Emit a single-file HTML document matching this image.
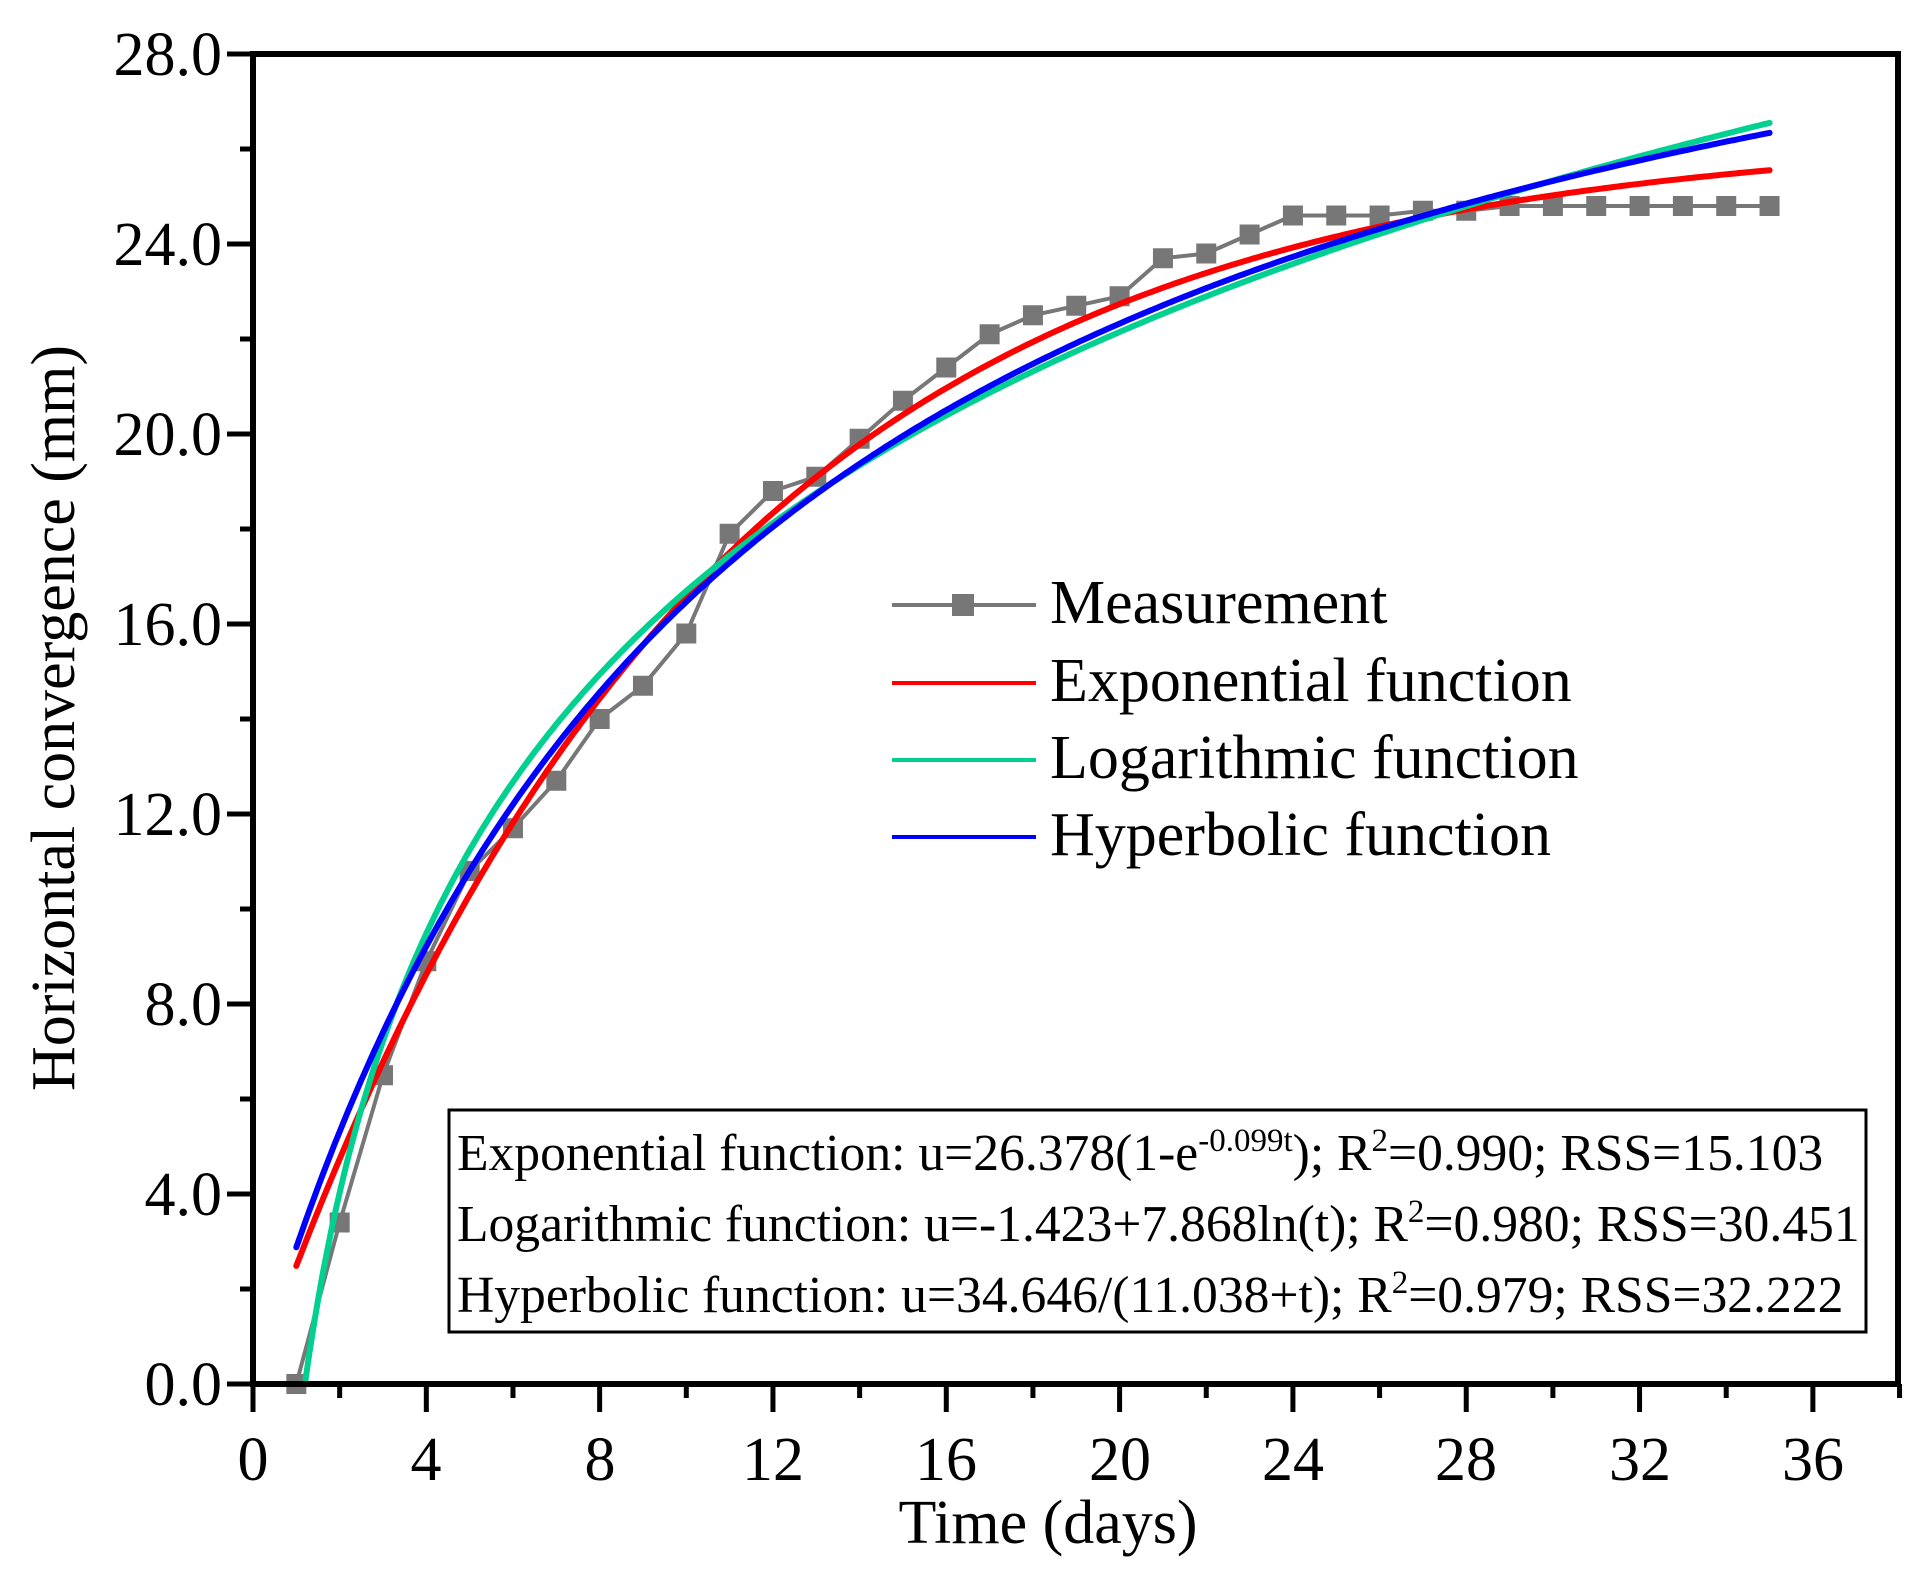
<!DOCTYPE html>
<html><head><meta charset="utf-8"><style>
html,body{margin:0;padding:0;background:#fff}
svg{display:block}
text{font-family:"Liberation Serif",serif;fill:#000}
</style></head><body>
<svg id="s" width="1928" height="1586" viewBox="0 0 1928 1586" xmlns="http://www.w3.org/2000/svg">
<rect width="1928" height="1586" fill="#fff"/>
<g id="ticks" stroke="#000" stroke-width="5"></g>
<g id="series" fill="none" stroke-linecap="round" stroke-linejoin="round"></g>
<!-- frame -->
<rect x="253" y="54" width="1645" height="1330" fill="none" stroke="#000" stroke-width="6"/>
<!-- y tick labels -->
<g font-size="62" text-anchor="end">
<text x="222" y="1405">0.0</text>
<text x="222" y="1215">4.0</text>
<text x="222" y="1025">8.0</text>
<text x="222" y="835">12.0</text>
<text x="222" y="645">16.0</text>
<text x="222" y="455">20.0</text>
<text x="222" y="265">24.0</text>
<text x="222" y="75">28.0</text>
</g>
<g font-size="62" text-anchor="middle">
<text x="253" y="1480">0</text>
<text x="426" y="1480">4</text>
<text x="600" y="1480">8</text>
<text x="773" y="1480">12</text>
<text x="946" y="1480">16</text>
<text x="1120" y="1480">20</text>
<text x="1293" y="1480">24</text>
<text x="1466" y="1480">28</text>
<text x="1640" y="1480">32</text>
<text x="1813" y="1480">36</text>
</g>
<text x="1048" y="1543" font-size="62" text-anchor="middle">Time (days)</text>
<text transform="translate(74,718) rotate(-90)" font-size="62" text-anchor="middle">Horizontal convergence (mm)</text>
<!-- legend -->
<g stroke-width="4">
<line x1="892" y1="605" x2="1036" y2="605" stroke="#777"/>
<rect x="952" y="594" width="22" height="22" fill="#777" stroke="none"/>
<line x1="892" y1="683" x2="1036" y2="683" stroke="#f00"/>
<line x1="892" y1="760" x2="1036" y2="760" stroke="#00d090"/>
<line x1="892" y1="837" x2="1036" y2="837" stroke="#00f"/>
</g>
<g font-size="62">
<text x="1050" y="623">Measurement</text>
<text x="1050" y="701">Exponential function</text>
<text x="1050" y="778">Logarithmic function</text>
<text x="1050" y="855">Hyperbolic function</text>
</g>
<rect x="449" y="1110" width="1417" height="222" fill="#fff" stroke="#000" stroke-width="3"/>
<g font-size="51.6">
<text x="457" y="1170">Exponential function: u=26.378(1-e<tspan dy="-19" font-size="33">-0.099t</tspan><tspan dy="19">); R</tspan><tspan dy="-19" font-size="33">2</tspan><tspan dy="19">=0.990; RSS=15.103</tspan></text>
<text x="457" y="1241">Logarithmic function: u=-1.423+7.868ln(t); R<tspan dy="-19" font-size="33">2</tspan><tspan dy="19">=0.980; RSS=30.451</tspan></text>
<text x="457" y="1312">Hyperbolic function: u=34.646/(11.038+t); R<tspan dy="-19" font-size="33">2</tspan><tspan dy="19">=0.979; RSS=32.222</tspan></text>
</g>
</svg>
<script>
(function(){
var NS="http://www.w3.org/2000/svg";
var x0=253,dx=43.33,y0=1384,dy=47.5;
function X(t){return x0+t*dx}function Y(v){return y0-v*dy}
var tk=document.getElementById('ticks'),h='';
for(var v=0;v<=28;v+=2){var y=Y(v);var L=(v%4==0)?26:13;h+='<line x1="'+(253-L)+'" y1="'+y+'" x2="253" y2="'+y+'"/>';}
for(var t=0;t<=38;t+=2){var x=X(t);var L=(t%4==0)?28:14;h+='<line x1="'+x+'" y1="1384" x2="'+x+'" y2="'+(1384+L)+'"/>';}
tk.innerHTML=h;
var g=document.getElementById('series');
function curve(f,a,b,col){var d='';for(var t=a;t<=b+1e-9;t+=0.1){d+=(d?'L':'M')+X(t).toFixed(1)+' '+Y(f(t)).toFixed(1);}
var p=document.createElementNS(NS,'path');p.setAttribute('d',d);p.setAttribute('stroke',col);p.setAttribute('stroke-width','6');g.appendChild(p);}
var m=[0,3.4,6.5,8.9,10.8,11.7,12.7,14.0,14.7,15.8,17.9,18.8,19.1,19.9,20.7,21.4,22.1,22.5,22.7,22.9,23.7,23.8,24.2,24.6,24.6,24.6,24.7,24.7,24.8,24.8,24.8,24.8,24.8,24.8,24.8];
var d='';for(var i=0;i<m.length;i++){d+=(i?'L':'M')+X(i+1).toFixed(1)+' '+Y(m[i]).toFixed(1);}
var p=document.createElementNS(NS,'path');p.setAttribute('d',d);p.setAttribute('stroke','#777');p.setAttribute('stroke-width','4');g.appendChild(p);
for(var i=0;i<m.length;i++){var r=document.createElementNS(NS,'rect');r.setAttribute('x',X(i+1)-10);r.setAttribute('y',Y(m[i])-10);r.setAttribute('width',20);r.setAttribute('height',20);r.setAttribute('fill','#777');r.setAttribute('stroke','none');g.appendChild(r);}
curve(function(t){return 26.378*(1-Math.exp(-0.099*t))},1,35,'#f00');
curve(function(t){return -1.423+7.868*Math.log(t)},1.2,35,'#00d090');
curve(function(t){return 34.646*t/(11.038+t)},1,35,'#00f');
})();
</script>
</body></html>
